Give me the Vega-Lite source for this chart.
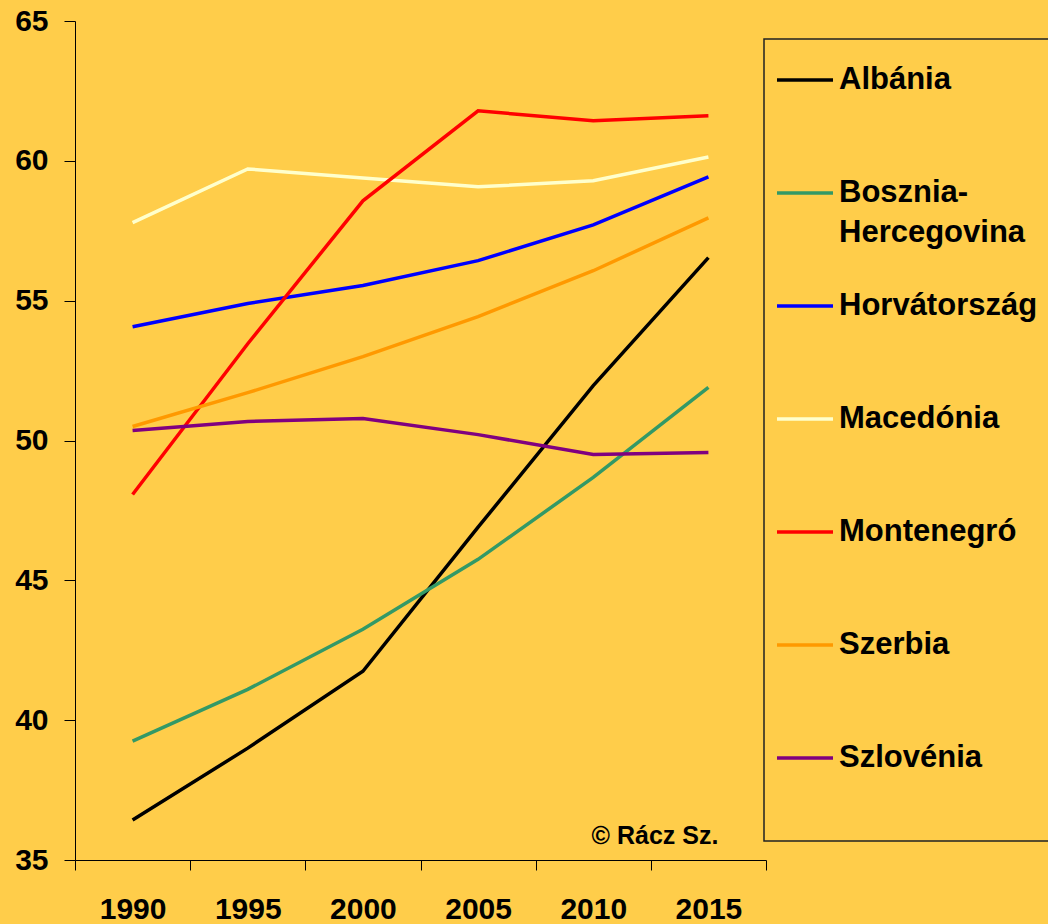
{
  "$schema": "https://vega.github.io/schema/vega-lite/v6.json",
  "width": 691,
  "height": 839,
  "autosize": {"type": "none"},
  "padding": {"left": 75, "top": 21, "right": 282, "bottom": 64},
  "background": "#FFCD4A",
  "config": {"view": {"stroke": null}, "font": "Liberation Sans"},
  "data": {"values": [
    {"country": "Albánia", "year": "1990", "value": 36.43},
    {"country": "Albánia", "year": "1995", "value": 39.0},
    {"country": "Albánia", "year": "2000", "value": 41.75},
    {"country": "Albánia", "year": "2005", "value": 46.9},
    {"country": "Albánia", "year": "2010", "value": 51.96},
    {"country": "Albánia", "year": "2015", "value": 56.54},
    {"country": "Bosznia-Hercegovina", "year": "1990", "value": 39.25},
    {"country": "Bosznia-Hercegovina", "year": "1995", "value": 41.1},
    {"country": "Bosznia-Hercegovina", "year": "2000", "value": 43.25},
    {"country": "Bosznia-Hercegovina", "year": "2005", "value": 45.75},
    {"country": "Bosznia-Hercegovina", "year": "2010", "value": 48.68},
    {"country": "Bosznia-Hercegovina", "year": "2015", "value": 51.9},
    {"country": "Horvátország", "year": "1990", "value": 54.07},
    {"country": "Horvátország", "year": "1995", "value": 54.9},
    {"country": "Horvátország", "year": "2000", "value": 55.54},
    {"country": "Horvátország", "year": "2005", "value": 56.43},
    {"country": "Horvátország", "year": "2010", "value": 57.71},
    {"country": "Horvátország", "year": "2015", "value": 59.43},
    {"country": "Macedónia", "year": "1990", "value": 57.79},
    {"country": "Macedónia", "year": "1995", "value": 59.71},
    {"country": "Macedónia", "year": "2000", "value": 59.39},
    {"country": "Macedónia", "year": "2005", "value": 59.07},
    {"country": "Macedónia", "year": "2010", "value": 59.29},
    {"country": "Macedónia", "year": "2015", "value": 60.14},
    {"country": "Montenegró", "year": "1990", "value": 48.07},
    {"country": "Montenegró", "year": "1995", "value": 53.46},
    {"country": "Montenegró", "year": "2000", "value": 58.57},
    {"country": "Montenegró", "year": "2005", "value": 61.79},
    {"country": "Montenegró", "year": "2010", "value": 61.43},
    {"country": "Montenegró", "year": "2015", "value": 61.61},
    {"country": "Szerbia", "year": "1990", "value": 50.5},
    {"country": "Szerbia", "year": "1995", "value": 51.71},
    {"country": "Szerbia", "year": "2000", "value": 53.0},
    {"country": "Szerbia", "year": "2005", "value": 54.43},
    {"country": "Szerbia", "year": "2010", "value": 56.07},
    {"country": "Szerbia", "year": "2015", "value": 57.96},
    {"country": "Szlovénia", "year": "1990", "value": 50.36},
    {"country": "Szlovénia", "year": "1995", "value": 50.68},
    {"country": "Szlovénia", "year": "2000", "value": 50.79},
    {"country": "Szlovénia", "year": "2005", "value": 50.21},
    {"country": "Szlovénia", "year": "2010", "value": 49.5},
    {"country": "Szlovénia", "year": "2015", "value": 49.57}
  ]},
  "layer": [
    {
      "mark": {"type": "line", "strokeWidth": 3.5},
      "encoding": {
        "x": {
          "field": "year", "type": "ordinal", "bandPosition": 0.5,
          "scale": {"type": "band", "paddingInner": 0, "paddingOuter": 0},
          "axis": {"title": null, "tickBand": "extent", "tickSize": 10, "tickColor": "#000", "domainColor": "#000",
                   "labelFontSize": 30, "labelFontWeight": "bold", "labelColor": "#000", "labelPadding": 24,
                   "labelAngle": 0, "grid": false}
        },
        "y": {
          "field": "value", "type": "quantitative",
          "scale": {"domain": [35, 65], "nice": false, "zero": false},
          "axis": {"title": null, "values": [35, 40, 45, 50, 55, 60, 65], "tickSize": 11, "tickColor": "#000",
                   "domainColor": "#000", "labelFontSize": 30, "labelFontWeight": "bold", "labelColor": "#000",
                   "labelPadding": 16, "grid": false}
        },
        "color": {
          "field": "country", "type": "nominal",
          "scale": {
            "domain": ["Albánia", "Bosznia-Hercegovina", "Horvátország", "Macedónia", "Montenegró", "Szerbia", "Szlovénia"],
            "range": ["#000000", "#339966", "#0000FF", "#FFFFCC", "#FF0000", "#FF9900", "#800080"]
          },
          "legend": {
            "title": null,
            "orient": "none", "legendX": 689, "legendY": 18,
            "strokeColor": "#222", "padding": 11,
            "symbolType": "stroke", "symbolSize": 3136, "symbolStrokeWidth": 3.5,
            "labelFontSize": 31, "labelFontWeight": "bold", "labelColor": "#000", "labelFont": "Liberation Sans",
            "labelOffset": 4, "rowPadding": 11, "gridAlign": "all", "labelLimit": 400,
            "labelExpr": "datum.value === 'Bosznia-Hercegovina' ? ['Bosznia-', 'Hercegovina'] : datum.value === 'Szlovénia' ? ['Szlovénia', ''] : datum.label",
            "encode": {
              "legend": {"update": {"strokeWidth": {"value": 1.5}, "width": {"value": 300}}},
              "labels": {"update": {"lineHeight": {"signal": "datum.value === 'Szlovénia' ? 57 : 40"}}}
            }
          }
        }
      }
    },
    {
      "data": {"values": [{"year": "2015", "value": 35.57, "label": "© Rácz Sz."}]},
      "mark": {"type": "text", "align": "right", "baseline": "alphabetic", "dx": 10, "fontSize": 25, "fontWeight": "bold", "font": "Liberation Sans", "color": "#000"},
      "encoding": {
        "x": {"field": "year", "type": "ordinal", "bandPosition": 0.5},
        "y": {"field": "value", "type": "quantitative"},
        "text": {"field": "label"}
      }
    }
  ]
}
